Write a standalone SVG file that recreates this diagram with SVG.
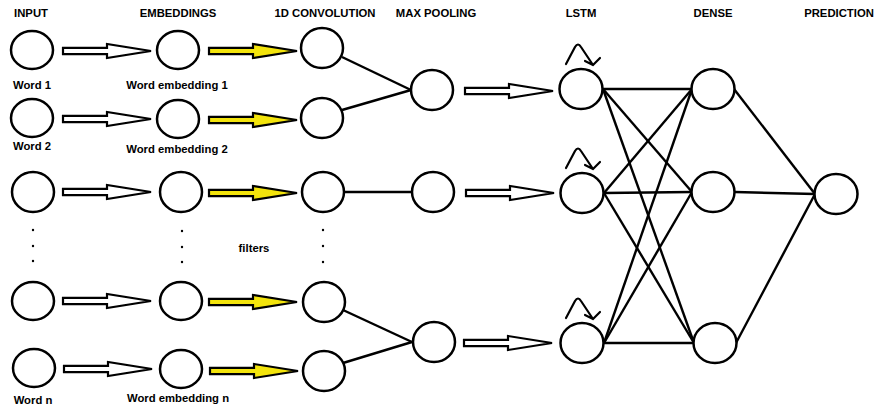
<svg xmlns="http://www.w3.org/2000/svg" width="875" height="408" viewBox="0 0 875 408">
  <style>
    text { font-family: "Liberation Sans", Arial, sans-serif; font-weight: bold; font-size: 11.3px; fill: #000; text-anchor: middle; }
    .node { fill: #fff; stroke: #000; stroke-width: 2.5; }
    .edge { stroke: #000; stroke-width: 2.4; fill: none; }
    .hollow { fill: #fff; stroke: #000; stroke-width: 2.2; stroke-linejoin: miter; }
    .yellow { fill: #f3e40c; stroke: #000; stroke-width: 2.2; stroke-linejoin: miter; }
    .loop { stroke: #000; stroke-width: 2.2; fill: none; stroke-linecap: round; stroke-linejoin: round; }
    .dot { fill: #000; }
  </style>
  <defs>
    <!-- block arrow, 88 px long, tail at the origin -->
    <path id="blockArrow" d="M0,-3.2 H44 V-7 L88,0 L44,7 V3.2 H0 Z"/>
    <!-- small recurrent loop drawn above an LSTM cell -->
    <path id="recur" d="M-15,-25 L-6,-42 Q-3,-47 0,-42 L12,-24 M4,-28 L12,-24 L19,-31"/>
  </defs>

  <!-- column headings -->
  <g id="headings">
    <text x="31" y="17">INPUT</text>
    <text x="178" y="17">EMBEDDINGS</text>
    <text x="325" y="17">1D CONVOLUTION</text>
    <text x="436" y="17">MAX POOLING</text>
    <text x="581" y="17">LSTM</text>
    <text x="713" y="17">DENSE</text>
    <text x="839" y="17">PREDICTION</text>
  </g>

  <!-- connectors -->
  <g id="connectors">
    <!-- input -> embeddings -->
    <use href="#blockArrow" class="hollow" x="63" y="51"/>
    <use href="#blockArrow" class="hollow" x="63" y="119"/>
    <use href="#blockArrow" class="hollow" x="63" y="192"/>
    <use href="#blockArrow" class="hollow" x="63" y="301"/>
    <use href="#blockArrow" class="hollow" x="64" y="369"/>
    <!-- embeddings -> convolution -->
    <use href="#blockArrow" class="yellow" x="209" y="51"/>
    <use href="#blockArrow" class="yellow" x="209" y="120"/>
    <use href="#blockArrow" class="yellow" x="209" y="193"/>
    <use href="#blockArrow" class="yellow" x="209" y="302"/>
    <use href="#blockArrow" class="yellow" x="210" y="371"/>
    <!-- convolution -> pooling -->
    <line class="edge" x1="342" y1="57" x2="411" y2="90"/>
    <line class="edge" x1="342" y1="110" x2="411" y2="90"/>
    <line class="edge" x1="344" y1="192" x2="412" y2="192"/>
    <line class="edge" x1="343" y1="310" x2="412" y2="342"/>
    <line class="edge" x1="343" y1="363" x2="412" y2="342"/>
    <!-- pooling -> LSTM -->
    <use href="#blockArrow" class="hollow" x="465" y="91"/>
    <use href="#blockArrow" class="hollow" x="466" y="193"/>
    <use href="#blockArrow" class="hollow" x="464" y="343"/>
    <!-- LSTM -> dense (fully connected) -->
    <line class="edge" x1="603" y1="89" x2="692" y2="89"/>
    <line class="edge" x1="603" y1="89" x2="692" y2="192"/>
    <line class="edge" x1="603" y1="89" x2="694" y2="343"/>
    <line class="edge" x1="604" y1="193" x2="692" y2="89"/>
    <line class="edge" x1="604" y1="193" x2="692" y2="192"/>
    <line class="edge" x1="604" y1="193" x2="694" y2="343"/>
    <line class="edge" x1="604" y1="343" x2="692" y2="89"/>
    <line class="edge" x1="604" y1="343" x2="692" y2="192"/>
    <line class="edge" x1="604" y1="343" x2="694" y2="343"/>
    <!-- dense -> prediction -->
    <line class="edge" x1="734" y1="89" x2="815" y2="194"/>
    <line class="edge" x1="735" y1="192" x2="815" y2="194"/>
    <line class="edge" x1="736" y1="343" x2="815" y2="194"/>
    <!-- recurrent loops -->
    <use href="#recur" class="loop" x="581" y="89"/>
    <use href="#recur" class="loop" x="581" y="193"/>
    <use href="#recur" class="loop" x="581" y="343"/>
  </g>

  <!-- input words -->
  <g id="input-1"><ellipse class="node" cx="32" cy="50" rx="21" ry="19"/><text x="32" y="89">Word 1</text></g>
  <g id="input-2"><ellipse class="node" cx="32" cy="118" rx="21" ry="19"/><text x="32" y="150">Word 2</text></g>
  <g id="input-3"><ellipse class="node" cx="33" cy="192" rx="21" ry="20"/></g>
  <g id="input-4"><ellipse class="node" cx="33" cy="301" rx="21" ry="19"/></g>
  <g id="input-n"><ellipse class="node" cx="34" cy="368" rx="21" ry="19"/><text x="33" y="404">Word n</text></g>
  <g id="input-dots"><circle class="dot" cx="33" cy="230" r="1.2"/><circle class="dot" cx="33" cy="246" r="1.2"/><circle class="dot" cx="33" cy="261" r="1.2"/></g>

  <!-- embeddings -->
  <g id="emb-1"><ellipse class="node" cx="178" cy="50" rx="21" ry="19"/><text x="177" y="89">Word embedding 1</text></g>
  <g id="emb-2"><ellipse class="node" cx="178" cy="119" rx="21" ry="19"/><text x="177" y="153">Word embedding 2</text></g>
  <g id="emb-3"><ellipse class="node" cx="181" cy="192" rx="21" ry="20"/></g>
  <g id="emb-4"><ellipse class="node" cx="181" cy="301" rx="21" ry="19"/></g>
  <g id="emb-n"><ellipse class="node" cx="181" cy="369" rx="21" ry="19"/><text x="178" y="402">Word embedding n</text></g>
  <g id="emb-dots"><circle class="dot" cx="182" cy="231" r="1.2"/><circle class="dot" cx="182" cy="247" r="1.2"/><circle class="dot" cx="182" cy="262" r="1.2"/></g>
  <text id="filters" x="254" y="252">filters</text>

  <!-- convolution -->
  <g id="conv-1"><ellipse class="node" cx="322" cy="48" rx="21" ry="20"/></g>
  <g id="conv-2"><ellipse class="node" cx="322" cy="118" rx="21" ry="20"/></g>
  <g id="conv-3"><ellipse class="node" cx="323" cy="192" rx="21" ry="20"/></g>
  <g id="conv-4"><ellipse class="node" cx="324" cy="302" rx="21" ry="20"/></g>
  <g id="conv-5"><ellipse class="node" cx="324" cy="371" rx="21" ry="20"/></g>
  <g id="conv-dots"><circle class="dot" cx="323" cy="230" r="1.2"/><circle class="dot" cx="323" cy="246" r="1.2"/><circle class="dot" cx="323" cy="262" r="1.2"/></g>

  <!-- max pooling -->
  <g id="pool-1"><ellipse class="node" cx="432" cy="90" rx="21" ry="20"/></g>
  <g id="pool-2"><ellipse class="node" cx="433" cy="192" rx="21" ry="20"/></g>
  <g id="pool-3"><ellipse class="node" cx="434" cy="342" rx="21" ry="20"/></g>

  <!-- LSTM -->
  <g id="lstm-1"><ellipse class="node" cx="581" cy="89" rx="21.5" ry="20"/></g>
  <g id="lstm-2"><ellipse class="node" cx="582" cy="193" rx="21.5" ry="20"/></g>
  <g id="lstm-3"><ellipse class="node" cx="582" cy="343" rx="21.5" ry="20"/></g>

  <!-- dense -->
  <g id="dense-1"><ellipse class="node" cx="713" cy="89" rx="21.5" ry="20"/></g>
  <g id="dense-2"><ellipse class="node" cx="713" cy="192" rx="21.5" ry="20"/></g>
  <g id="dense-3"><ellipse class="node" cx="715" cy="343" rx="21.5" ry="20"/></g>

  <!-- prediction -->
  <g id="prediction"><ellipse class="node" cx="836" cy="194" rx="21.5" ry="20"/></g>
</svg>
